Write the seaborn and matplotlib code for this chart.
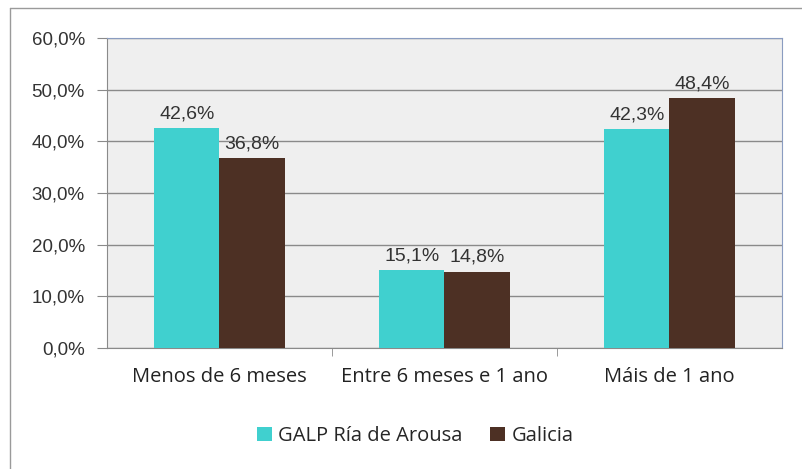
import matplotlib
matplotlib.use("Agg")
import matplotlib.pyplot as plt
from matplotlib.lines import Line2D
from matplotlib.patches import Patch
from matplotlib.ticker import FuncFormatter, FixedLocator
import pandas as pd
import seaborn as sns

# data
categories = ["Menos de 6 meses", "Entre 6 meses e 1 ano", "Máis de 1 ano"]
series = ["GALP Ría de Arousa", "Galicia"]
galp_vals = [42.6, 15.1, 42.3]
galicia_vals = [36.8, 14.8, 48.4]
colors = ["#40d0cf", "#4d3024"]

df = pd.DataFrame({
    "cat": categories * 2,
    "serie": [series[0]] * 3 + [series[1]] * 3,
    "val": galp_vals + galicia_vals,
})

sns.set_style("white")
plt.rcParams["font.family"] = ["Liberation Sans", "DejaVu Sans"]

fig = plt.figure(figsize=(8.03, 4.69), dpi=100)
ax = fig.add_axes([107 / 803, 1 - 348 / 469, 675 / 803, 310 / 469])

sns.barplot(data=df, x="cat", y="val", hue="serie", palette=colors,
            width=0.58, gap=0, saturation=1, ax=ax, legend=False, zorder=3,
            linewidth=0, edgecolor="none")

ax.set_facecolor("#efefef")
ax.set_ylim(0, 60)
ax.set_xlim(-0.5, 2.5)
ax.set_yticks(range(0, 61, 10))
ax.yaxis.set_major_formatter(FuncFormatter(lambda v, p: f"{v:.1f}%".replace(".", ",")))
ax.grid(axis="y", color="#8a8a8a", linewidth=1, zorder=1)
ax.set_axisbelow(True)
ax.set_xlabel("")
ax.set_ylabel("")

# value labels
for cont in ax.containers:
    labels = [f"{b.get_height():.1f}%".replace(".", ",") for b in cont]
    ax.bar_label(cont, labels=labels, padding=4, fontsize=14, color="#333333")

for s in ["left", "bottom"]:
    ax.spines[s].set_color("#8a8a8a")
for s in ["top", "right"]:
    ax.spines[s].set_color("#8a9cc0")

ax.tick_params(axis="y", length=7, color="#8a8a8a", direction="out", labelsize=13.5,
               labelcolor="#333333", pad=9, left=True)
ax.tick_params(axis="x", which="major", length=0, pad=14)
ax.xaxis.set_minor_locator(FixedLocator([0.5, 1.5]))
ax.tick_params(axis="x", which="minor", length=6, color="#8a8a8a", bottom=True)
for lbl in ax.get_xticklabels():
    lbl.set_family(["Open Sans", "DejaVu Sans"])
    lbl.set_fontsize(14.5)
    lbl.set_color("#222222")

handles = [Patch(facecolor=c, edgecolor="none") for c in colors]
fig.legend(handles, series, loc="center", bbox_to_anchor=(415 / 803, 1 - 436 / 469),
           ncol=2, frameon=False, handlelength=0.75, handleheight=0.75,
           handletextpad=0.3, columnspacing=1.4,
           prop={"family": ["Open Sans", "DejaVu Sans"], "size": 14.5})

# outer chart frame
fig.add_artist(Line2D([10 / 803, 1], [1 - 8 / 469, 1 - 8 / 469], color="#9a9a9a", lw=1))
fig.add_artist(Line2D([10 / 803, 10 / 803], [0, 1 - 8 / 469], color="#9a9a9a", lw=1))

fig.savefig("out.png", dpi=100, facecolor="white")
